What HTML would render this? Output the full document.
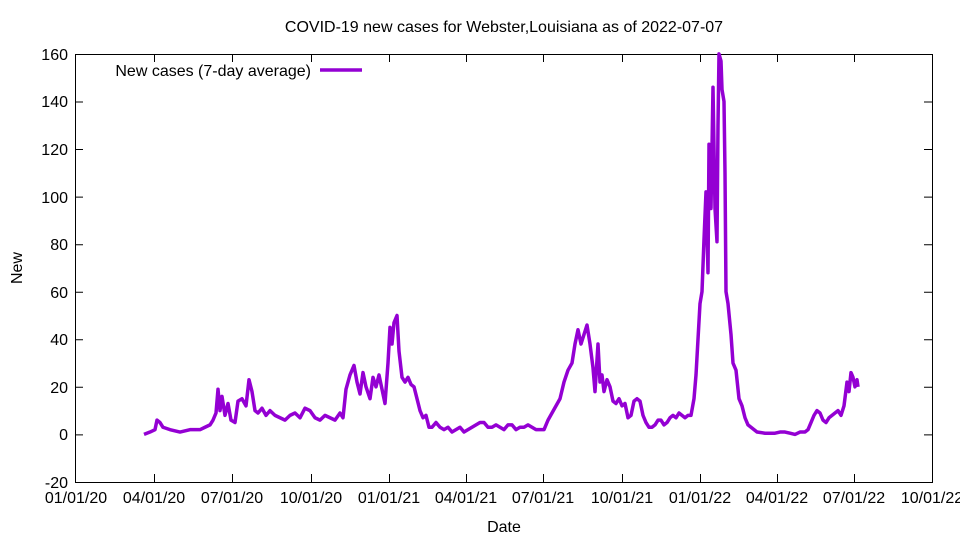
<!DOCTYPE html>
<html><head><meta charset="utf-8"><style>
body{margin:0;background:#fff}
svg{display:block;font-family:"Liberation Sans",Arial,sans-serif;font-size:16px}
</style></head><body>
<svg width="960" height="540" viewBox="0 0 960 540" xmlns="http://www.w3.org/2000/svg">
<rect width="960" height="540" fill="#fff"/>
<text x="504" y="32" text-anchor="middle">COVID-19 new cases for Webster,Louisiana as of 2022-07-07</text>
<g stroke="#000" stroke-width="1" fill="none">
<rect x="75.5" y="54.5" width="857" height="428"/>
<path d="M75 482.5h8M75 434.9h8M75 387.3h8M75 339.8h8M75 292.2h8M75 244.7h8M75 197.1h8M75 149.5h8M75 102h8M75 54.5h8
M932 482.5h-8M932 434.9h-8M932 387.3h-8M932 339.8h-8M932 292.2h-8M932 244.7h-8M932 197.1h-8M932 149.5h-8M932 102h-8M932 54.5h-8
M154.5 482v-8M232.5 482v-8M311.5 482v-8M389.5 482v-8M466.5 482v-8M543.5 482v-8M622.5 482v-8M700.5 482v-8M777.5 482v-8M854.5 482v-8
M154.5 54v8M232.5 54v8M311.5 54v8M389.5 54v8M466.5 54v8M543.5 54v8M622.5 54v8M700.5 54v8M777.5 54v8M854.5 54v8"/>
</g>
<g text-anchor="end">
<text x="68" y="488">-20</text><text x="68" y="440">0</text><text x="68" y="393">20</text><text x="68" y="345">40</text><text x="68" y="298">60</text><text x="68" y="250">80</text><text x="68" y="203">100</text><text x="68" y="155">120</text><text x="68" y="107">140</text><text x="68" y="60">160</text>
</g>
<g text-anchor="middle">
<text x="76" y="503">01/01/20</text><text x="154" y="503">04/01/20</text><text x="232" y="503">07/01/20</text><text x="311" y="503">10/01/20</text><text x="389" y="503">01/01/21</text><text x="466" y="503">04/01/21</text><text x="543" y="503">07/01/21</text><text x="622" y="503">10/01/21</text><text x="700" y="503">01/01/22</text><text x="777" y="503">04/01/22</text><text x="854" y="503">07/01/22</text><text x="932" y="503">10/01/22</text>
<text x="504" y="532">Date</text>
</g>
<text x="22" y="268" text-anchor="middle" transform="rotate(-90 22 268)">New</text>
<text x="311" y="76" text-anchor="end">New cases (7-day average)</text>
<line x1="320" y1="70" x2="362" y2="70" stroke="#9400d3" stroke-width="3.5"/>
<g transform="translate(0,434.4) scale(1,-2.378)">
<polyline fill="none" stroke="#9400d3" stroke-width="3.5" vector-effect="non-scaling-stroke" stroke-linejoin="round" points="144,0 150,1 155,2 157,6 160,5 163,3 170,2 180,1 190,2 200,2 205,3 210,4 213,6 216,9 218,19 220,10 222,16 225,8 228,13 231,6 235,5 238,14 242,15 246,12 249,23 252,18 255,10 258,9 262,11 266,8 270,10 275,8 280,7 285,6 290,8 295,9 300,7 305,11 310,10 315,7 320,6 325,8 330,7 335,6 340,9 343,7 346,19 350,25 354,29 357,22 360,17 363,26 366,20 370,15 373,24 376,20 379,25 382,19 385,13 388,30 390,45 392,38 394,47 397,50 399,35 402,24 405,22 408,24 411,21 414,20 417,15 420,10 423,7 426,8 429,3 432,3 436,5 440,3 444,2 448,3 452,1 456,2 460,3 464,1 468,2 472,3 476,4 480,5 484,5 488,3 492,3 496,4 500,3 504,2 508,4 512,4 516,2 520,3 524,3 528,4 532,3 536,2 540,2 544,2 548,6 552,9 556,12 560,15 564,22 568,27 572,30 575,38 578,44 581,38 584,42 587,46 590,38 593,28 595,18 598,38 600,22 602,25 604,18 607,23 610,20 613,14 616,13 619,15 622,12 625,13 628,7 631,8 634,14 637,15 640,14 643,8 646,5 649,3 652,3 655,4 658,6 661,6 664,4 667,5 670,7 673,8 676,7 679,9 682,8 685,7 688,8 691,8 694,15 696,25 698,40 700,55 702,60 704,82 706,102 708,68 709,122 711,95 713,146 715,95 717,81 718,130 719,160 721,157 722,145 724,140 725,110 726,60 728,55 731,42 733,30 736,27 739,15 742,12 745,7 748,4 751,3 754,2 757,1 765,0.5 775,0.5 780,1 785,1 790,0.5 795,0 800,1 805,1 808,2 811,5 814,8 817,10 820,9 823,6 826,5 829,7 832,8 835,9 838,10 841,8 844,12 847,22 849,18 851,26 853,24 855,20 857,23 858,20"/>
</g>
</svg>
</body></html>
